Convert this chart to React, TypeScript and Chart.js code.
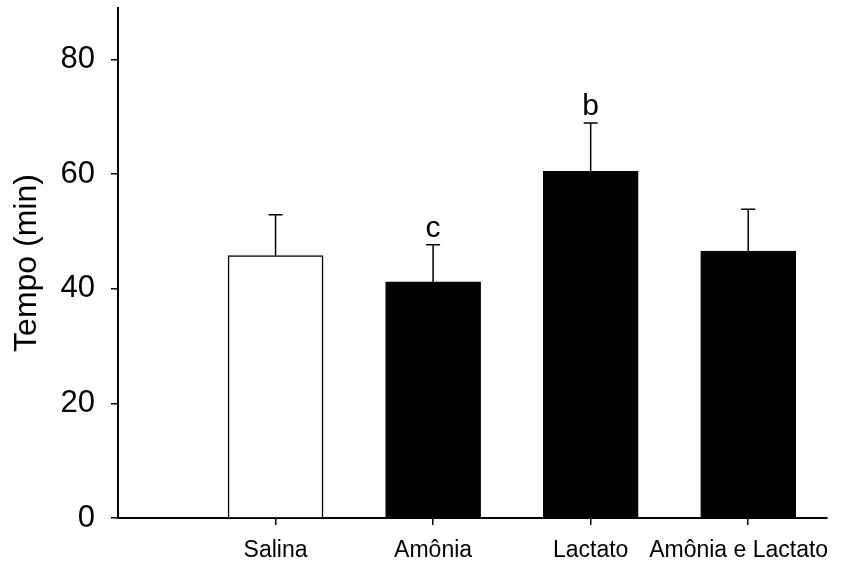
import React, { useEffect, useRef } from "react";
import { Chart, registerables } from "chart.js";

Chart.register(...registerables);

const categories = ["Salina", "Amônia", "Lactato", "Amônia e Lactato\u00a0\u00a0\u00a0"];
const positions = [1, 2, 3, 4];
const means = [45.8, 41.2, 60.5, 46.6];
const errors = [7.1, 6.5, 8.45, 7.3];
const letters = ["", "c", "b", ""];
const fills = ["#ffffff", "#000000", "#000000", "#000000"];
const yTicks = [0, 20, 40, 60, 80];

const FONT = "'Liberation Sans', Arial, Helvetica, sans-serif";

const errorBarPlugin = {
  id: "errorBars",
  afterDatasetsDraw(chart: any) {
    const ctx = chart.ctx;
    const xs = chart.scales.x;
    const ys = chart.scales.y;
    ctx.save();
    ctx.strokeStyle = "#000";
    ctx.lineWidth = 1.5;
    positions.forEach((p, i) => {
      const x = xs.getPixelForValue(p);
      const y0 = ys.getPixelForValue(means[i]);
      const y1 = ys.getPixelForValue(means[i] + errors[i]);
      ctx.beginPath();
      ctx.moveTo(x, y0);
      ctx.lineTo(x, y1);
      ctx.moveTo(x - 7, y1);
      ctx.lineTo(x + 7, y1);
      ctx.stroke();
      if (letters[i]) {
        ctx.fillStyle = "#000";
        ctx.font = `30px ${FONT}`;
        ctx.textAlign = "center";
        ctx.textBaseline = "alphabetic";
        ctx.fillText(letters[i], x, y1 - 8);
      }
    });
    ctx.restore();
  },
};

export default function App() {
  const ref = useRef<HTMLCanvasElement | null>(null);
  useEffect(() => {
    document.body.style.margin = "0";
    if (!ref.current) return;
    const chart = new Chart(ref.current, {
      type: "bar",
      data: {
        datasets: [
          {
            data: positions.map((p, i) => ({ x: p, y: means[i] })),
            backgroundColor: fills,
            borderColor: "#000",
            borderWidth: 1.5,
            barThickness: 95,
          },
        ],
      },
      options: {
        animation: false,
        responsive: false,
        maintainAspectRatio: false,
        layout: { padding: { top: 8, right: 16, bottom: 0, left: 0 } },
        plugins: { legend: { display: false }, tooltip: { enabled: false } },
        scales: {
          x: {
            type: "linear",
            min: 0,
            max: 4.5,
            offset: false,
            afterBuildTicks: (s: any) => {
              s.ticks = positions.map((v) => ({ value: v }));
            },
            afterFit: (s: any) => {
              s.height = 44;
              s.paddingLeft = 0;
              s.paddingRight = 0;
            },
            grid: {
              offset: false,
              drawOnChartArea: false,
              drawTicks: true,
              tickLength: 7,
              color: "#000",
              lineWidth: 1.5,
            },
            border: { display: true, color: "#000", width: 2 },
            ticks: {
              autoSkip: false,
              maxRotation: 0,
              padding: 12,
              color: "#000",
              font: { family: FONT, size: 23 },
              callback: (v: any) => categories[positions.indexOf(Number(v))] ?? "",
            },
          },
          y: {
            type: "linear",
            min: 0,
            max: 89,
            afterBuildTicks: (s: any) => {
              s.ticks = yTicks.map((v) => ({ value: v }));
            },
            afterFit: (s: any) => {
              s.width = 118;
              s.paddingTop = 0;
              s.paddingBottom = 0;
            },
            grid: {
              drawOnChartArea: false,
              drawTicks: true,
              tickLength: 7,
              color: "#000",
              lineWidth: 1.5,
            },
            border: { display: true, color: "#000", width: 2 },
            ticks: {
              padding: 16,
              color: "#000",
              font: { family: FONT, size: 31 },
            },
            title: {
              display: true,
              text: "Tempo (min)",
              color: "#000",
              font: { family: FONT, size: 32 },
              padding: { top: 8, bottom: 0 },
            },
          },
        },
      },
      plugins: [errorBarPlugin],
    });
    return () => chart.destroy();
  }, []);
  return (
    <div style={{ width: 843, height: 562, background: "#fff" }}>
      <canvas ref={ref} width={843} height={562} style={{ display: "block" }} />
    </div>
  );
}
